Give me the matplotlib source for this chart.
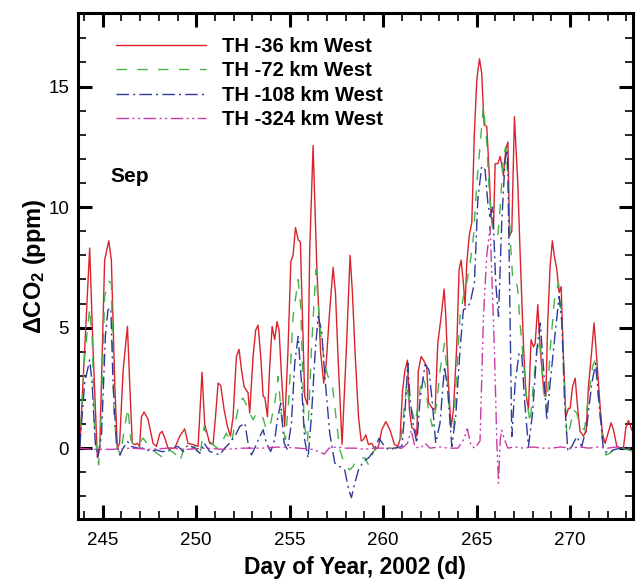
import matplotlib
matplotlib.use("Agg")
import matplotlib.pyplot as plt
from matplotlib.ticker import MultipleLocator

plt.rcParams['font.family'] = ['Liberation Sans', 'DejaVu Sans']
plt.rcParams['mathtext.default'] = 'regular'

# TH -36 km West
day_36 = [243.77, 244.03, 244.30, 244.48, 244.71, 244.84, 245.10, 245.32, 245.46, 245.64,
          245.78, 245.90, 246.09, 246.32, 246.44, 246.58, 246.71, 246.85, 246.97, 247.07,
          247.21, 247.42, 247.69, 247.87, 248.05, 248.17, 248.35, 248.49, 248.85, 249.12,
          249.38, 249.56, 249.83, 250.10, 250.31, 250.45, 250.72, 250.90, 251.03, 251.17,
          251.31, 251.49, 251.67, 251.83, 251.97, 252.15, 252.29, 252.42, 252.56, 252.77,
          252.86, 253.04, 253.18, 253.31, 253.45, 253.58, 253.67, 253.81, 253.93, 254.06,
          254.20, 254.32, 254.43, 254.56, 254.73, 254.91, 255.06, 255.18, 255.31, 255.45,
          255.57, 255.68, 255.80, 255.95, 256.07, 256.25, 256.45, 256.65, 256.82, 256.95,
          257.12, 257.32, 257.45, 257.60, 257.80, 258.03, 258.23, 258.35, 258.50, 258.68,
          258.82, 258.94, 259.07, 259.21, 259.39, 259.57, 259.75, 259.92, 260.14, 260.37,
          260.60, 260.78, 260.90, 261.03, 261.17, 261.30, 261.40, 261.53, 261.71, 261.80,
          261.88, 262.03, 262.15, 262.33, 262.42, 262.63, 262.78, 262.92, 263.10, 263.26,
          263.35, 263.49, 263.63, 263.76, 263.94, 264.06, 264.17, 264.29, 264.38, 264.47,
          264.60, 264.74, 264.88, 265.01, 265.15, 265.27, 265.40, 265.54, 265.67, 265.77,
          265.90, 265.99, 266.13, 266.26, 266.35, 266.43, 266.56, 266.67, 266.76, 266.88,
          267.02, 267.20, 267.32, 267.50, 267.63, 267.77, 267.91, 268.04, 268.13, 268.27,
          268.40, 268.57, 268.70, 268.80, 268.93, 269.05, 269.16, 269.29, 269.41, 269.52,
          269.64, 269.77, 269.91, 270.00, 270.13, 270.27, 270.41, 270.53, 270.71, 270.86,
          270.98, 271.16, 271.28, 271.43, 271.61, 271.73, 271.87, 272.02, 272.19, 272.32,
          272.50, 272.68, 272.85, 272.98, 273.12, 273.30]
co2_36 = [0.0, 4.1, 8.3, 4.1, -0.4, 0.1, 7.8, 8.6, 7.8, 2.7,
          0.0, 0.2, 3.25, 5.05, 2.7, 0.2, 0.15, 0.2, 0.07, 1.3,
          1.5, 1.2, 0.2, 0.07, 0.6, 0.7, 0.35, 0.0, 0.0, 0.5,
          0.8, 0.2, 0.15, 0.07, 3.15, 1.0, 0.2, 0.15, 1.3, 2.7,
          2.6, 1.6, 0.9, 0.5, 1.3, 3.8, 4.1, 3.25, 2.55, 2.3,
          1.45, 3.8, 4.9, 5.1, 3.8, 2.15, 2.1, 1.3, 3.4, 5.05,
          4.5, 5.25, 4.9, 3.0, 0.9, 4.1, 7.75, 8.0, 9.15, 8.65,
          8.55, 5.45, 2.15, 1.8, 8.2, 12.55, 7.5, 4.0, 2.7, 3.5,
          5.5, 7.5, 6.4, 3.5, 0.15, 4.1, 8.0, 6.5, 3.9, 1.3,
          0.3, 0.35, 0.55, 0.15, 0.2, -0.07, 0.07, 0.75, 1.1, 0.75,
          0.15, 0.07, 0.35, 2.35, 3.25, 3.65, 1.6, 0.85, 0.75, 0.5,
          3.2, 3.8, 3.65, 3.4, 1.9, 1.65, 1.6, 4.35, 5.45, 6.6,
          5.45, 2.7, 0.85, 1.6, 4.35, 7.4, 7.8, 6.85, 5.9, 7.65,
          8.8, 9.35, 13.1, 15.3, 16.15, 15.55, 13.4, 13.35, 11.4, 9.6,
          9.2, 11.8, 11.8, 12.1, 11.7, 11.3, 12.4, 12.7, 8.8, 9.0,
          13.75, 11.0, 8.2, 4.35, 2.3, 1.6, 4.5, 4.2, 4.35, 5.95,
          4.1, 2.55, 2.15, 5.2, 7.55, 8.6, 7.95, 7.4, 6.45, 6.7,
          3.8, 1.3, 1.65, 1.65, 2.55, 2.9, 1.6, 0.7, 0.5, 0.7,
          2.55, 4.1, 5.2, 3.65, 1.65, 0.6, 0.2, 0.6, 1.05, 0.75,
          0.07, 0.0, 0.0, 0.85, 1.15, 0.75]

# TH -72 km West
day_72 = [243.77, 244.03, 244.30, 244.43, 244.57, 244.78, 244.93, 245.10, 245.32, 245.46,
          245.60, 245.78, 245.96, 246.17, 246.35, 246.50, 246.71, 246.97, 247.15, 247.42,
          247.78, 248.14, 248.31, 248.58, 248.94, 249.12, 249.38, 249.65, 249.92, 250.19,
          250.42, 250.63, 250.90, 251.13, 251.35, 251.61, 251.88, 252.15, 252.33, 252.50,
          252.68, 252.86, 253.04, 253.22, 253.40, 253.58, 253.75, 253.98, 254.20, 254.38,
          254.56, 254.77, 254.95, 255.18, 255.45, 255.59, 255.77, 255.95, 256.16, 256.40,
          256.61, 256.88, 257.05, 257.27, 257.45, 257.68, 257.94, 258.21, 258.39, 258.57,
          258.77, 259.03, 259.21, 259.48, 259.75, 260.01, 260.28, 260.64, 260.90, 261.08,
          261.26, 261.39, 261.53, 261.71, 261.88, 262.06, 262.24, 262.42, 262.63, 262.87,
          263.05, 263.28, 263.40, 263.58, 263.76, 263.94, 264.11, 264.29, 264.47, 264.65,
          264.83, 265.01, 265.24, 265.36, 265.54, 265.67, 265.81, 265.95, 266.13, 266.26,
          266.43, 266.56, 266.67, 266.79, 266.92, 267.06, 267.20, 267.32, 267.50, 267.68,
          267.86, 268.04, 268.22, 268.40, 268.57, 268.75, 268.93, 269.16, 269.38, 269.56,
          269.70, 269.82, 270.00, 270.18, 270.36, 270.53, 270.77, 270.98, 271.20, 271.34,
          271.52, 271.73, 271.91, 272.14, 272.41, 272.76, 273.12, 273.35]
co2_72 = [0.07, 3.8, 5.8, 4.6, 0.62, -0.69, 1.59, 6.3, 6.92, 6.85,
          1.31, 0.0, -0.28, 0.9, 1.66, 0.35, 0.07, 0.21, 0.42, 0.14,
          -0.14, -0.35, -0.41, -0.07, -0.28, -0.55, 0.07, -0.07, 0.07, -0.35,
          0.9, 0.35, 0.14, 0.0, 0.21, 0.62, 0.21, 1.31, 1.94, 2.08,
          1.8, 1.45, 1.18, 1.45, 1.45, 1.24, 0.76, 1.04, 1.87, 2.97,
          1.31, 0.35, 2.0, 5.46, 6.99, 5.88, 1.04, 0.21, 4.08, 7.4,
          5.05, 3.46, 2.97, 2.7, 1.45, -0.07, -0.69, -0.9, -0.76, -0.48,
          -0.41, -0.41, -0.69, -0.14, 0.07, -0.07, 0.0, 0.0, 0.07, 1.31,
          2.7, 1.87, 1.59, 1.04, 1.87, 2.97, 2.7, 1.59, 0.9, 1.87,
          3.25, 4.35, 3.25, 1.04, 0.62, 3.25, 5.46, 6.29, 6.85, 7.67,
          8.78, 10.99, 13.07, 14.18, 12.65, 10.72, 9.34, 8.85, 8.78, 10.02,
          12.1, 12.51, 11.27, 8.78, 7.12, 7.12, 6.57, 5.19, 3.66, 2.0,
          1.04, 2.7, 4.08, 4.49, 2.42, 1.59, 4.08, 6.15, 6.85, 5.19,
          2.7, 0.48, 0.9, 1.59, 1.45, 0.9, 0.76, 2.15, 3.39, 3.66,
          2.0, 0.35, -0.28, -0.21, 0.0, 0.0, -0.07, -0.14]

# TH -108 km West
day_108 = [243.77, 244.03, 244.30, 244.43, 244.60, 244.75, 244.93, 245.14, 245.28, 245.43,
           245.55, 245.73, 245.91, 246.09, 246.32, 246.53, 246.89, 247.24, 247.51, 247.87,
           248.14, 248.40, 248.67, 249.03, 249.30, 249.56, 249.92, 250.19, 250.42, 250.72,
           250.99, 251.26, 251.52, 251.79, 252.06, 252.33, 252.60, 252.77, 252.95, 253.17,
           253.40, 253.58, 253.75, 253.98, 254.20, 254.34, 254.52, 254.70, 254.88, 255.09,
           255.27, 255.45, 255.63, 255.80, 255.98, 256.16, 256.37, 256.52, 256.70, 256.88,
           257.14, 257.41, 257.68, 257.94, 258.16, 258.30, 258.48, 258.68, 258.94, 259.21,
           259.48, 259.78, 260.01, 260.28, 260.64, 261.00, 261.17, 261.32, 261.44, 261.62,
           261.80, 261.97, 262.24, 262.45, 262.63, 262.81, 263.04, 263.28, 263.45, 263.67,
           263.88, 264.11, 264.29, 264.47, 264.65, 264.88, 265.06, 265.27, 265.45, 265.60,
           265.72, 265.86, 266.02, 266.17, 266.34, 266.52, 266.65, 266.76, 266.88, 267.06,
           267.27, 267.41, 267.56, 267.77, 267.99, 268.22, 268.40, 268.57, 268.75, 268.93,
           269.20, 269.41, 269.56, 269.70, 269.88, 270.09, 270.36, 270.62, 270.89, 271.16,
           271.37, 271.55, 271.78, 272.05, 272.32, 272.68, 273.03, 273.37]
co2_108 = [0.07, 2.7, 3.66, 2.7, 0.21, -0.35, 0.49, 4.63, 5.74, 5.81,
           2.7, 0.21, -0.28, 0.0, 0.28, 0.07, 0.0, 0.0, -0.14, -0.07,
           -0.14, -0.14, 0.0, 0.07, -0.14, 0.14, 0.0, -0.21, 0.21, -0.14,
           -0.21, -0.28, 0.0, 0.21, 0.49, 0.9, 1.04, 0.21, -0.28, 0.07,
           0.49, 0.76, 0.21, -0.14, 0.35, 1.18, 1.87, 0.21, -0.07, 1.04,
           3.53, 4.63, 2.7, 0.35, -0.41, 1.31, 4.08, 5.46, 4.91, 2.97,
           0.62, -0.62, -0.76, -0.9, -1.73, -2.05, -1.45, -0.9, -0.55, -0.41,
           -0.14, 0.41, 0.14, -0.07, 0.0, 0.07, 1.59, 3.53, 2.0, 0.9,
           0.21, 2.0, 3.46, 3.25, 1.87, 0.21, 1.04, 3.39, 2.42, 0.07,
           1.31, 4.08, 5.74, 5.81, 6.02, 6.85, 10.3, 11.69, 11.55, 10.16,
           9.61, 10.02, 6.85, 5.46, 9.34, 11.96, 12.38, 6.85, 0.48, 2.7,
           3.94, 3.94, 2.0, 0.07, 1.45, 4.08, 5.19, 3.39, 1.17, 2.7,
           4.77, 6.29, 5.19, 2.0, -0.14, 0.07, 0.48, 0.07, 0.9, 2.7,
           3.53, 1.87, -0.07, -0.21, -0.07, 0.0, 0.0, 0.0]

# TH -324 km West
day_324 = [243.70, 244.50, 245.50, 246.50, 247.50, 248.50, 249.50, 250.50, 251.50, 252.50,
           253.50, 254.50, 255.50, 256.20, 256.60, 256.85, 257.10, 257.50, 258.00, 258.50,
           259.00, 259.50, 260.00, 260.50, 261.00, 261.30, 261.50, 261.70, 262.00, 262.25,
           262.50, 263.00, 263.50, 264.00, 264.30, 264.50, 264.70, 264.90, 265.18, 265.36,
           265.54, 265.72, 265.95, 266.08, 266.17, 266.26, 266.34, 266.49, 266.67, 267.00,
           267.50, 268.00, 268.50, 269.00, 269.50, 270.00, 270.50, 271.00, 271.50, 272.00,
           272.50, 273.00, 273.35]
co2_324 = [0.0, -0.05, -0.05, 0.0, -0.05, 0.0, -0.05, 0.0, -0.05, 0.0,
           0.0, 0.05, 0.0, -0.05, -0.15, -0.25, 0.0, 0.05, 0.0, 0.0,
           -0.05, 0.0, 0.0, 0.0, 0.0, 0.2, 0.75, 0.05, 0.0, 0.2,
           0.0, 0.05, 0.0, 0.0, 0.35, 0.8, 0.1, 0.0, 0.3, 5.4,
           8.0, 9.2, 4.1, 0.2, -1.45, 0.35, 0.75, 0.35, 0.0, 0.05,
           0.0, 0.05, 0.0, 0.0, 0.05, 0.0, 0.05, 0.0, 0.05, 0.0,
           0.05, 0.0, 0.0]

fig = plt.figure(figsize=(6.36, 5.8), dpi=100)
ax = fig.add_axes([0.1219, 0.1047, 0.8730, 0.8729])

ax.plot(day_36, co2_36, color='#d9232d', lw=1.0, label='TH -36 km West')
ax.plot(day_72, co2_72, color='#44b449', lw=1.0, dashes=(7.5, 7.5), label='TH -72 km West')
ax.plot(day_108, co2_108, color='#2e3b98', lw=1.0, dashes=(9, 3, 1.5, 3), label='TH -108 km West')
ax.plot(day_324, co2_324, color='#c83ca8', lw=1.0, dashes=(9, 2.5, 1.5, 2.5, 1.5, 2.5),
        label='TH -324 km West')

ax.set_xlim(243.65, 273.35)
ax.set_ylim(-2.95, 18.05)
ax.xaxis.set_major_locator(MultipleLocator(5))
ax.xaxis.set_minor_locator(MultipleLocator(1))
ax.yaxis.set_major_locator(MultipleLocator(5))
ax.yaxis.set_minor_locator(MultipleLocator(1))
ax.tick_params(which='both', direction='in', top=True, right=True, labelsize=13.5)
ax.tick_params(which='major', length=10, width=2.2, pad=6)
ax.tick_params(axis='x', which='major', pad=9)
ax.tick_params(which='minor', length=5.5, width=1.2)
for s in ax.spines.values():
    s.set_linewidth(2.2)

ax.set_xlabel('Day of Year, 2002 (d)', fontsize=16.5, fontweight='bold', labelpad=5)
ax.set_ylabel('ΔCO$_2$ (ppm)', fontsize=17, fontweight='bold', labelpad=0)

ax.legend(loc='upper left', bbox_to_anchor=(0.0684, 0.9526), frameon=False,
          borderaxespad=0, borderpad=0, handlelength=4.5, handletextpad=0.8,
          labelspacing=0.27, prop={'weight': 'bold', 'size': 14.5})

ax.text(0.0585, 0.6668, 'Sep', transform=ax.transAxes, fontsize=15,
        fontweight='bold', va='baseline')

fig.savefig('out.png', dpi=100)
